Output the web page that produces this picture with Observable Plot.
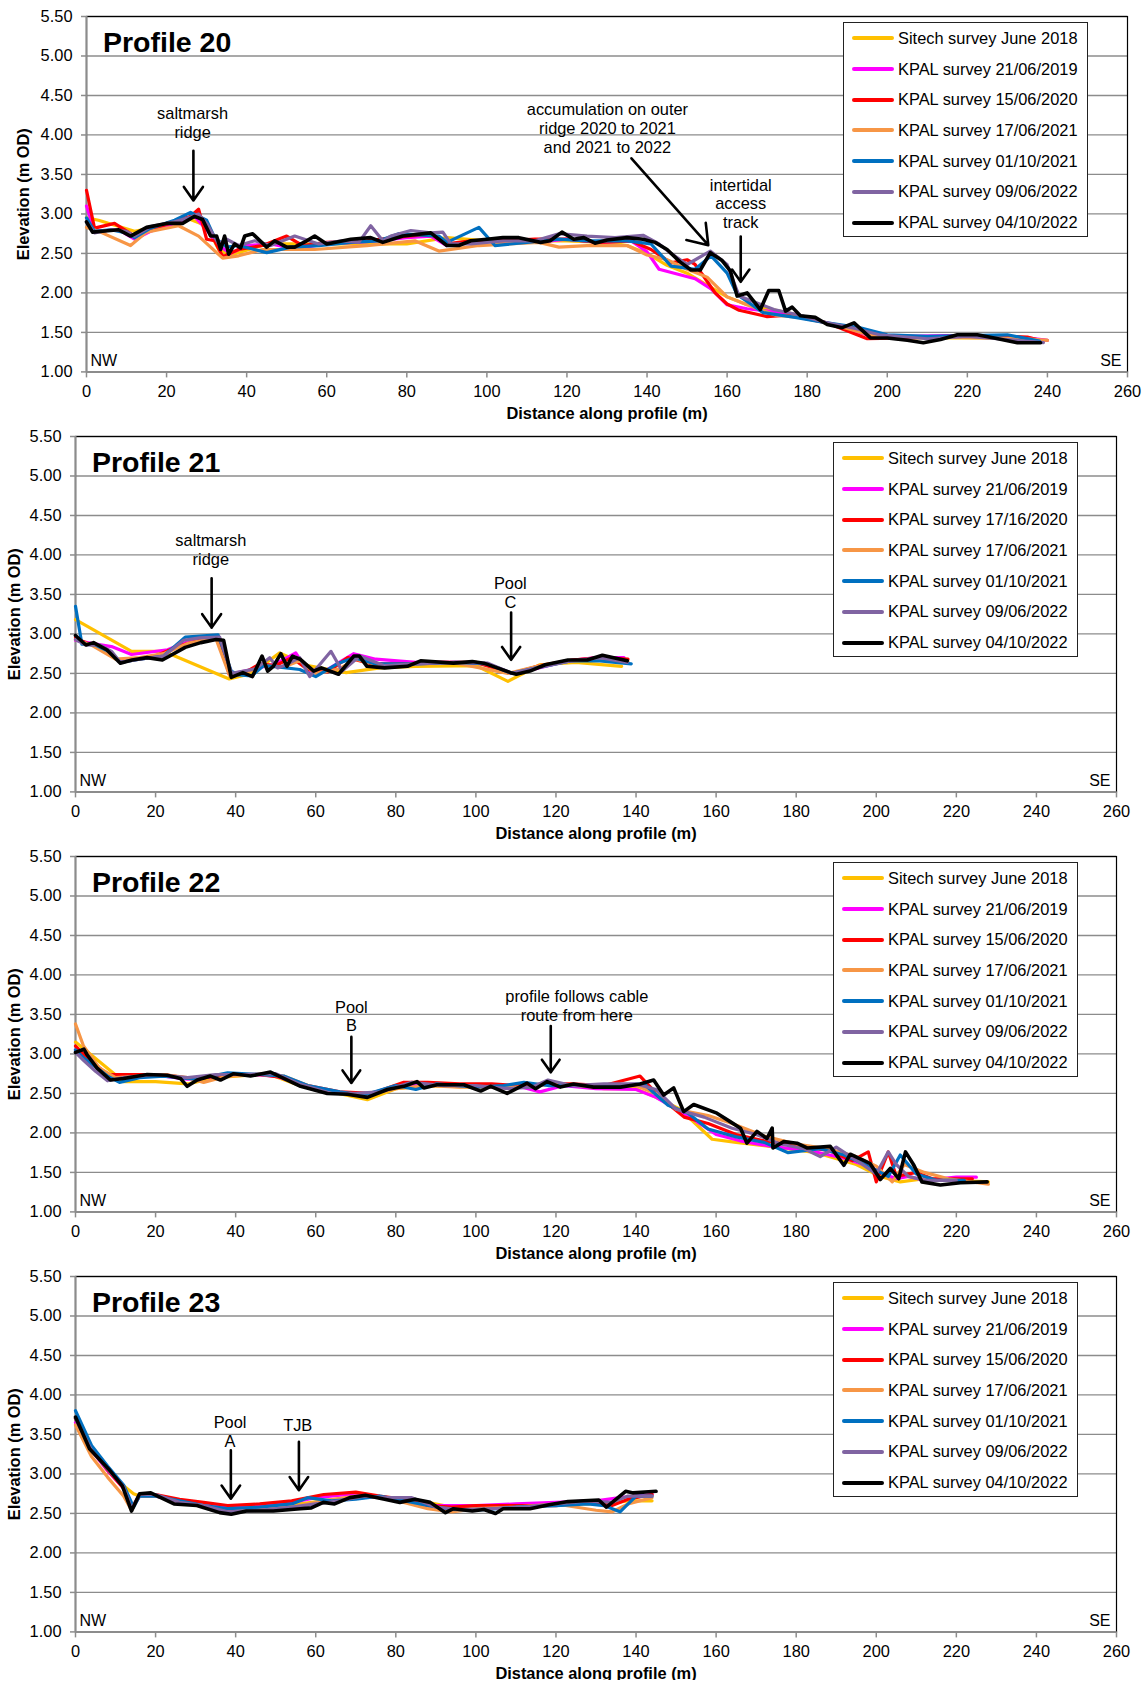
<!DOCTYPE html>
<html><head><meta charset="utf-8">
<script src="https://cdn.jsdelivr.net/npm/d3@7"></script>
<script src="https://cdn.jsdelivr.net/npm/@observablehq/plot@0.6"></script>
<style>
body{margin:0;background:#fff;font-family:"Liberation Sans",Arial,sans-serif;}
.panel{position:relative;width:1146px;height:420px;}
.panel svg{overflow:visible;background:transparent;}
.legend{position:absolute;top:22px;width:245px;height:215px;border:1.2px solid #222;background:#fff;box-sizing:border-box;}
.legend .row{position:absolute;left:0;height:20px;display:flex;align-items:center;font-size:16.4px;white-space:nowrap;color:#000;}
.legend .sw{display:inline-block;width:42px;height:4px;margin-left:8px;margin-right:4px;border-radius:2px;}
</style></head><body><div id="chart"></div>
<script>
const xTicks = [0,20,40,60,80,100,120,140,160,180,200,220,240,260];
const yTicks = [1,1.5,2,2.5,3,3.5,4,4.5,5,5.5];
const seriesColors = ["#FFC000","#FF00FF","#FF0000","#F79646","#0070C0","#8064A2","#000000"];
const legendA = ["Sitech survey June 2018","KPAL survey 21/06/2019","KPAL survey 15/06/2020","KPAL survey 17/06/2021","KPAL survey 01/10/2021","KPAL survey 09/06/2022","KPAL survey 04/10/2022"];
const legendB = ["Sitech survey June 2018","KPAL survey 21/06/2019","KPAL survey 17/16/2020","KPAL survey 17/06/2021","KPAL survey 01/10/2021","KPAL survey 09/06/2022","KPAL survey 04/10/2022"];
const titles = ["Profile 20","Profile 21","Profile 22","Profile 23"];

// ---- Profile 20 ----
const p20_sitech = [[0,2.95],[3,2.92],[12,2.78],[16,2.82],[25,2.95],[30,2.85],[33,2.55],[36,2.48],[45,2.62],[55,2.62],[65,2.62],[80,2.62],[90,2.7],[100,2.66],[110,2.66],[120,2.66],[130,2.64],[135,2.6],[140,2.5],[145,2.35],[150,2.25],[155,2.1],[160,1.95],[165,1.85],[175,1.75],[185,1.62],[195,1.47],[205,1.43],[215,1.43],[225,1.43],[235,1.42],[240,1.40]];
const p20_2019 = [[0,3.1],[2,2.78],[8,2.8],[12,2.68],[16,2.78],[22,2.88],[27,2.97],[30,2.8],[33,2.6],[36,2.5],[40,2.6],[46,2.62],[52,2.56],[60,2.62],[70,2.65],[80,2.7],[86,2.72],[90,2.6],[96,2.64],[104,2.68],[112,2.64],[120,2.68],[128,2.64],[136,2.66],[140,2.52],[143,2.3],[152,2.18],[156,2.05],[160,1.85],[165,1.8],[175,1.74],[185,1.62],[195,1.47],[205,1.45],[215,1.46],[225,1.46],[235,1.43],[240,1.40]];
const p20_2020 = [[0,3.3],[2,2.82],[7,2.88],[12,2.72],[16,2.8],[22,2.9],[26,2.97],[28,3.06],[30,2.68],[32,2.66],[34,2.46],[38,2.55],[44,2.6],[50,2.72],[54,2.6],[60,2.64],[70,2.66],[80,2.72],[86,2.74],[90,2.62],[96,2.66],[104,2.66],[112,2.68],[120,2.68],[128,2.64],[136,2.66],[141,2.55],[146,2.38],[150,2.42],[152,2.36],[154,2.22],[157,2.0],[160,1.86],[163,1.78],[170,1.70],[175,1.72],[185,1.62],[195,1.42],[205,1.43],[215,1.45],[225,1.46],[235,1.44],[238,1.40]];
const p20_2021a = [[0,2.83],[3.5,2.77],[11,2.6],[15,2.77],[23,2.85],[28,2.72],[34,2.44],[38,2.47],[44,2.55],[57,2.55],[70,2.6],[82,2.66],[88,2.53],[98,2.6],[113,2.64],[118,2.58],[125,2.6],[135,2.6],[140,2.48],[145,2.42],[150,2.3],[155,2.2],[160,1.95],[165,1.85],[172,1.72],[180,1.68],[190,1.55],[197,1.45],[205,1.45],[215,1.44],[225,1.43],[235,1.42],[240,1.40]];
const p20_2021b = [[0,2.95],[2,2.78],[6,2.8],[10,2.76],[12,2.7],[16,2.82],[22,2.92],[26,3.02],[30,2.92],[32,2.7],[35,2.58],[38,2.6],[45,2.51],[51,2.58],[58,2.6],[66,2.64],[73,2.66],[78,2.75],[88,2.72],[90,2.64],[98,2.83],[102,2.6],[110,2.64],[118,2.68],[125,2.66],[135,2.66],[141,2.62],[146,2.34],[152,2.3],[156,2.47],[160,2.25],[162.5,1.98],[169,1.75],[177,1.69],[185,1.62],[193,1.56],[200,1.47],[210,1.45],[220,1.46],[230,1.47],[238,1.39]];
const p20_2022a = [[0,2.9],[2,2.76],[6,2.8],[10,2.78],[12,2.72],[16,2.84],[22,2.9],[26,2.96],[28,3.0],[30,2.88],[33,2.62],[35,2.68],[38,2.6],[42,2.66],[46,2.6],[52,2.72],[58,2.62],[64,2.66],[68,2.64],[71,2.85],[74,2.66],[76,2.72],[81,2.79],[86,2.76],[89,2.77],[91,2.62],[96,2.62],[104,2.66],[112,2.66],[118,2.75],[125,2.72],[132,2.70],[139,2.73],[143,2.62],[146,2.5],[150,2.36],[155.8,2.53],[160,2.36],[163,1.96],[171.7,1.79],[178,1.72],[185,1.62],[192,1.55],[198,1.47],[210,1.42],[220,1.45],[230,1.41],[239,1.37]];
const p20_2022b = [[0,2.9],[1.5,2.77],[4,2.78],[8,2.80],[11,2.72],[15,2.83],[20,2.88],[24,2.88],[27,2.97],[29,2.93],[31,2.72],[32.5,2.72],[33.5,2.55],[34.5,2.72],[35.5,2.49],[37,2.62],[38.5,2.57],[39.5,2.72],[41.5,2.75],[45,2.58],[47,2.66],[50,2.58],[52,2.58],[55,2.66],[57,2.72],[60,2.62],[66,2.68],[71,2.70],[74,2.64],[79,2.72],[86,2.76],[90,2.60],[93,2.60],[96,2.66],[100,2.68],[104,2.70],[108,2.70],[113.4,2.64],[115.8,2.66],[118.75,2.77],[121.7,2.68],[124.2,2.70],[127,2.63],[130,2.67],[135,2.70],[139,2.68],[142,2.64],[145,2.55],[148.3,2.39],[151,2.29],[153.3,2.29],[155.8,2.51],[158.75,2.41],[160.8,2.28],[162.5,1.96],[165,2.0],[168.3,1.79],[170.4,2.03],[172.9,2.03],[174.6,1.77],[176.25,1.82],[178.3,1.71],[182,1.69],[185,1.60],[188.75,1.56],[191.7,1.62],[195.8,1.43],[200,1.43],[205,1.40],[209,1.37],[213.3,1.41],[217.5,1.47],[222.5,1.47],[226.7,1.43],[232.5,1.37],[238.3,1.37]];
const p20_notes = [{x:26.5,y:4.16,text:"saltmarsh\nridge"},{x:130.1,y:4.09,text:"accumulation on outer\nridge 2020 to 2021\nand 2021 to 2022"},{x:163.4,y:3.133,text:"intertidal\naccess\ntrack"}];
const p20_arrows = [{x1:26.7,y1:3.80,x2:26.7,y2:3.17},{x1:136.1,y1:3.705,x2:155.3,y2:2.604},{x1:163.4,y1:2.713,x2:163.4,y2:2.14}];

// ---- Profile 21 ----
const p21_sitech = [[0,3.18],[14,2.78],[22,2.78],[38.4,2.43],[44,2.5],[51,2.76],[58,2.6],[67.6,2.51],[76,2.57],[85,2.59],[100,2.6],[108,2.4],[116,2.61],[125,2.64],[136.4,2.59]];
const p21_2019 = [[0,2.92],[4,2.88],[9,2.84],[14,2.74],[23,2.8],[28,2.9],[33,2.96],[35.6,2.97],[38.4,2.49],[44,2.55],[50,2.62],[55,2.76],[58,2.53],[63,2.55],[69.5,2.75],[75,2.68],[85,2.64],[95,2.64],[103,2.62],[109,2.5],[115,2.56],[123,2.66],[130,2.70],[137,2.70]];
const p21_2020 = [[0,2.95],[3,2.88],[8,2.8],[11,2.65],[15,2.68],[20,2.72],[26,2.85],[31,2.92],[35.5,2.96],[38.5,2.48],[42,2.5],[46,2.62],[50,2.6],[54,2.7],[58,2.55],[63,2.52],[68,2.7],[74,2.62],[82,2.62],[90,2.64],[100,2.64],[109,2.5],[116,2.6],[124,2.67],[131,2.7],[138,2.68]];
const p21_2021a = [[0,2.93],[4,2.86],[10,2.68],[16,2.7],[22,2.75],[28,2.88],[35,2.95],[38.5,2.47],[43,2.52],[47,2.6],[52,2.58],[56,2.66],[60,2.5],[66,2.56],[70,2.68],[76,2.6],[85,2.62],[95,2.63],[108,2.5],[116,2.6],[124,2.66],[132,2.68],[138,2.65]];
const p21_2021b = [[0,3.35],[1.6,2.87],[5,2.86],[9,2.76],[11.2,2.64],[16,2.68],[22,2.72],[27.4,2.96],[35.6,2.99],[38.9,2.53],[40.8,2.48],[44,2.47],[47,2.6],[51,2.58],[56,2.55],[60,2.46],[65.7,2.63],[69.5,2.7],[75,2.62],[85,2.62],[95,2.64],[103,2.62],[109,2.5],[116,2.58],[124,2.66],[131,2.66],[138.8,2.62]];
const p21_2022a = [[0,2.93],[2.6,2.86],[6,2.86],[9,2.78],[11.2,2.64],[16,2.68],[22,2.72],[27,2.92],[31,2.95],[36,2.96],[39,2.5],[42,2.53],[45,2.56],[48.5,2.70],[50.5,2.57],[53,2.62],[56,2.70],[58.5,2.46],[63.8,2.78],[66.6,2.53],[71,2.72],[77,2.6],[85,2.62],[95,2.64],[103,2.63],[109,2.5],[116,2.58],[124,2.66],[131,2.7],[137.8,2.64]];
const p21_2022b = [[0,2.98],[2.6,2.86],[4.5,2.89],[7.8,2.80],[11.2,2.63],[14.1,2.67],[17.9,2.70],[21.7,2.67],[27.4,2.83],[31.3,2.89],[35.1,2.93],[37,2.92],[38.9,2.45],[41.8,2.51],[44.2,2.46],[46.6,2.72],[48,2.53],[49.4,2.59],[51.3,2.75],[52.8,2.59],[54.2,2.72],[56.1,2.68],[59.5,2.53],[61.4,2.57],[65.7,2.49],[69.5,2.72],[70.9,2.72],[72.8,2.59],[77.2,2.57],[82.9,2.59],[86.2,2.66],[94.4,2.63],[99.1,2.65],[102,2.63],[108.7,2.51],[110.1,2.49],[113.5,2.53],[117.3,2.61],[123,2.67],[127.8,2.67],[131.6,2.73],[137.8,2.66]];
const p21_notes = [{x:33.8,y:4.07,text:"saltmarsh\nridge"},{x:108.6,y:3.53,text:"Pool\nC"}];
const p21_arrows = [{x1:34,y1:3.705,x2:34,y2:3.08},{x1:108.8,y1:3.27,x2:108.8,y2:2.672}];

// ---- Profile 22 ----
const p22_sitech = [[0,3.15],[12,2.65],[20,2.65],[28,2.62],[35,2.7],[48,2.75],[56,2.6],[64,2.52],[72.9,2.42],[80,2.56],[88,2.6],[100,2.58],[110,2.58],[118,2.62],[125,2.6],[132,2.56],[140,2.56],[145,2.45],[151,2.3],[159,1.92],[165,1.88],[175,1.82],[185,1.75],[195,1.6],[201,1.45],[206,1.38],[212,1.42],[220,1.4],[228,1.38]];
const p22_2019 = [[0,3.05],[2,2.95],[6,2.8],[10,2.7],[16,2.72],[22,2.72],[28,2.68],[36,2.72],[44,2.74],[50,2.72],[56,2.62],[64,2.52],[72,2.48],[80,2.58],[88,2.62],[96,2.6],[104,2.58],[110,2.6],[116,2.52],[122,2.6],[130,2.56],[140,2.55],[145,2.45],[150,2.3],[155,2.15],[160,1.98],[166,1.9],[175,1.82],[183,1.78],[192,1.68],[198,1.58],[202,1.48],[205,1.42],[208,1.45],[212,1.40],[220,1.44],[225,1.44]];
const p22_2020 = [[0,3.1],[3,2.95],[8,2.74],[14,2.74],[22,2.74],[30,2.68],[38,2.74],[46,2.74],[52,2.7],[58,2.6],[66,2.52],[74,2.5],[82,2.64],[88,2.64],[96,2.62],[104,2.62],[110,2.6],[118,2.62],[124,2.62],[132,2.6],[141,2.72],[146,2.45],[152,2.2],[158,2.12],[165,1.98],[172,1.9],[180,1.84],[188,1.78],[194,1.65],[198,1.76],[200,1.38],[203,1.76],[205,1.45],[210,1.5],[214,1.42],[220,1.42],[224,1.42]];
const p22_2021a = [[0,3.38],[2,3.1],[6,2.82],[10,2.7],[16,2.72],[22,2.74],[28,2.7],[32,2.64],[38,2.72],[46,2.74],[52,2.72],[58,2.6],[66,2.5],[72,2.47],[80,2.56],[88,2.6],[96,2.58],[104,2.58],[112,2.58],[120,2.62],[130,2.58],[140,2.6],[145,2.5],[150,2.3],[158,2.22],[164,2.12],[172,1.96],[180,1.86],[188,1.8],[195,1.7],[200,1.58],[204,1.38],[207,1.6],[212,1.5],[218,1.42],[228,1.35]];
const p22_2021b = [[0,3.05],[2,2.95],[8,2.72],[11,2.64],[16,2.7],[22,2.72],[30,2.68],[38,2.76],[46,2.74],[52,2.72],[58,2.6],[66,2.52],[72,2.48],[80,2.6],[85,2.55],[90,2.62],[100,2.58],[107,2.6],[112,2.64],[118,2.6],[126,2.6],[134,2.6],[142,2.62],[148,2.35],[153,2.25],[158,2.05],[165,1.95],[172,1.88],[178,1.75],[186,1.8],[192,1.72],[198,1.58],[203,1.45],[206,1.72],[210,1.48],[215,1.40],[222,1.40]];
const p22_2022a = [[0,3.02],[2,2.92],[5,2.78],[8,2.66],[12,2.7],[20,2.74],[28,2.7],[35,2.74],[42,2.74],[50,2.75],[56,2.62],[64,2.5],[70,2.5],[76,2.52],[84,2.64],[92,2.6],[100,2.6],[108,2.56],[114,2.58],[118,2.67],[124,2.6],[132,2.62],[140,2.62],[145,2.55],[150,2.3],[157,2.2],[164,2.06],[170,1.98],[176,1.86],[182,1.8],[186,1.7],[190,1.82],[196,1.62],[200,1.48],[203,1.76],[205,1.6],[208,1.45],[212,1.40],[220,1.40]];
const p22_2022b = [[0,3.02],[2.1,3.06],[2.9,2.99],[5.4,2.82],[8.7,2.67],[12,2.69],[17.9,2.74],[22.9,2.73],[26.2,2.69],[27.9,2.59],[30.4,2.67],[33.7,2.72],[36.2,2.67],[39.5,2.75],[43.7,2.72],[48.7,2.77],[52,2.69],[56.2,2.59],[62.9,2.50],[67.9,2.49],[72.9,2.45],[77.9,2.55],[82,2.59],[85.3,2.65],[87,2.57],[90.3,2.61],[97,2.61],[101.2,2.53],[103.7,2.59],[107.8,2.50],[112.8,2.63],[114.9,2.56],[117.8,2.65],[121.1,2.58],[124.4,2.62],[129.4,2.58],[136.1,2.58],[141,2.62],[144.4,2.67],[146.9,2.48],[149.4,2.57],[151.9,2.27],[154.4,2.36],[160.2,2.25],[163.6,2.14],[166.1,2.06],[167.7,1.87],[170.2,2.02],[172.7,1.93],[174,2.06],[174.2,1.81],[176.9,1.89],[180.2,1.87],[182.7,1.81],[188.5,1.83],[191.9,1.59],[193.5,1.73],[198.5,1.61],[201,1.41],[203.5,1.55],[205.6,1.42],[207.3,1.76],[209.4,1.59],[211.4,1.38],[216,1.34],[221,1.37],[227.7,1.38]];
const p22_notes = [{x:68.9,y:3.48,text:"Pool\nB"},{x:125.2,y:3.617,text:"profile follows cable\nroute from here"}];
const p22_arrows = [{x1:68.9,y1:3.216,x2:68.9,y2:2.632},{x1:118.7,y1:3.353,x2:118.7,y2:2.767}];

// ---- Profile 23 ----
const p23_sitech = [[0,3.7],[4,3.3],[8,3.05],[12,2.85],[14.5,2.75],[16,2.72],[20,2.72],[26,2.65],[32,2.6],[38,2.55],[44,2.55],[50,2.56],[56,2.62],[62,2.66],[68,2.7],[74,2.72],[80,2.68],[86,2.66],[92,2.6],[100,2.58],[108,2.6],[116,2.62],[124,2.62],[132,2.62],[138,2.66],[144,2.66]];
const p23_2019 = [[0,3.65],[4,3.3],[8,3.04],[12,2.82],[14,2.55],[16,2.72],[20,2.72],[26,2.66],[32,2.62],[38,2.58],[46,2.6],[54,2.64],[60,2.7],[68,2.74],[74,2.72],[82,2.66],[88,2.6],[94,2.6],[100,2.6],[110,2.62],[120,2.64],[130,2.66],[136,2.7],[144,2.74]];
const p23_2020 = [[0,3.7],[4,3.32],[8,3.05],[12,2.82],[14,2.56],[16,2.74],[20,2.74],[26,2.68],[32,2.64],[38,2.6],[46,2.62],[54,2.66],[62,2.74],[70,2.77],[76,2.72],[82,2.68],[88,2.6],[94,2.58],[100,2.6],[110,2.6],[120,2.6],[128,2.64],[134,2.6],[138,2.68],[144,2.74]];
const p23_2021a = [[0,3.62],[4,3.22],[8,2.96],[12,2.72],[14,2.54],[16,2.72],[20,2.72],[26,2.64],[32,2.6],[38,2.55],[46,2.55],[54,2.58],[62,2.66],[70,2.72],[76,2.7],[82,2.64],[88,2.56],[94,2.52],[100,2.56],[110,2.58],[120,2.62],[130,2.54],[134,2.52],[138,2.62],[144,2.7]];
const p23_2021b = [[0,3.8],[4,3.36],[8,3.1],[12,2.86],[14.5,2.58],[16,2.72],[20,2.72],[26,2.66],[32,2.6],[38,2.56],[46,2.58],[54,2.62],[58,2.7],[64,2.66],[70,2.68],[76,2.72],[82,2.66],[88,2.6],[94,2.55],[100,2.54],[110,2.58],[120,2.6],[128,2.62],[132,2.6],[136,2.52],[140,2.72],[144,2.72]];
const p23_2022a = [[0,3.7],[4,3.3],[8,3.06],[12,2.84],[14,2.56],[16,2.74],[20,2.74],[26,2.64],[32,2.6],[38,2.52],[46,2.54],[54,2.58],[60,2.62],[66,2.66],[72,2.72],[78,2.7],[84,2.7],[90,2.58],[96,2.55],[104,2.56],[112,2.58],[120,2.62],[128,2.66],[134,2.64],[138,2.72],[144,2.72]];
const p23_2022b = [[0,3.72],[3.5,3.32],[8.3,3.06],[11.7,2.85],[14,2.53],[16,2.75],[18.8,2.76],[24.6,2.62],[30.3,2.60],[36,2.51],[38.9,2.49],[42.7,2.53],[49.4,2.53],[56.1,2.56],[58.9,2.57],[61.9,2.64],[64.7,2.62],[68.5,2.70],[72.4,2.73],[77.2,2.68],[81,2.64],[84.8,2.68],[88.6,2.64],[92.4,2.51],[94.4,2.56],[99.1,2.53],[102,2.55],[104.9,2.50],[106.8,2.56],[113.5,2.56],[118.3,2.61],[123,2.65],[126.9,2.66],[130.7,2.67],[132.6,2.58],[137.4,2.78],[139.3,2.76],[145,2.78]];
const p23_notes = [{x:38.6,y:3.535,text:"Pool\nA"},{x:55.5,y:3.624,text:"TJB"}];
const p23_arrows = [{x1:38.8,y1:3.298,x2:38.8,y2:2.686},{x1:55.8,y1:3.406,x2:55.8,y2:2.794}];

const panels = [
  {title: titles[0], series: [p20_sitech,p20_2019,p20_2020,p20_2021a,p20_2021b,p20_2022a,p20_2022b], notes: p20_notes, arrows: p20_arrows, legend: legendA, ml: 86, mr: 19, ylx: -62.4, legLeft: 843},
  {title: titles[1], series: [p21_sitech,p21_2019,p21_2020,p21_2021a,p21_2021b,p21_2022a,p21_2022b], notes: p21_notes, arrows: p21_arrows, legend: legendB, ml: 75, mr: 30, ylx: -61, legLeft: 833},
  {title: titles[2], series: [p22_sitech,p22_2019,p22_2020,p22_2021a,p22_2021b,p22_2022a,p22_2022b], notes: p22_notes, arrows: p22_arrows, legend: legendA, ml: 75, mr: 30, ylx: -61, legLeft: 833},
  {title: titles[3], series: [p23_sitech,p23_2019,p23_2020,p23_2021a,p23_2021b,p23_2022a,p23_2022b], notes: p23_notes, arrows: p23_arrows, legend: legendA, ml: 75, mr: 30, ylx: -61, legLeft: 833}
];

const FONT = '"Liberation Sans", Arial, sans-serif';
const grey = "#8c8c8c";
const root = document.getElementById("chart");

for (const p of panels) {
  const lineMarks = p.series.map((s, i) => Plot.line(s, {
    x: d => d[0], y: d => d[1],
    stroke: seriesColors[i], strokeWidth: i === 6 ? 3.6 : 3.2,
    strokeLinejoin: "round", strokeLinecap: "round"
  }));
  const chart = Plot.plot({
    width: 1146, height: 420,
    marginTop: 16, marginBottom: 48.6, marginLeft: p.ml, marginRight: p.mr,
    style: {fontFamily: FONT, fontSize: "16.4px", color: "#000", background: "transparent", overflow: "visible"},
    x: {domain: [0, 260], label: null},
    y: {domain: [1, 5.5], label: null},
    marks: [
      Plot.gridY({ticks: yTicks, stroke: grey, strokeOpacity: 1, strokeWidth: 1.3}),
      Plot.frame({stroke: "#000", strokeWidth: 1.2}),
      Plot.ruleX([0], {stroke: grey, strokeWidth: 2}),
      Plot.ruleY([1], {stroke: grey, strokeWidth: 2}),
      Plot.axisY({ticks: yTicks, tickFormat: d3.format(".2f"), tickSize: 5, tickPadding: 9, stroke: grey, strokeWidth: 1.5, label: null, fontSize: 16.4}),
      Plot.axisX({ticks: xTicks, tickFormat: d3.format("d"), tickSize: 6, tickPadding: 7, stroke: grey, strokeWidth: 1.5, label: null, fontSize: 16.4}),
      ...lineMarks,
      Plot.text(p.notes, {x: "x", y: "y", text: "text", fontSize: 16.4, lineHeight: 1.15, lineAnchor: "middle", textAnchor: "middle", fill: "#000"}),
      Plot.arrow(p.arrows, {x1: "x1", y1: "y1", x2: "x2", y2: "y2", stroke: "#000", strokeWidth: 2.6, headLength: 13, headAngle: 70}),
      Plot.text([p.title], {text: d => d, frameAnchor: "top-left", dx: 16.5, dy: 26.5, lineAnchor: "middle", textAnchor: "start", fontWeight: "bold", fontSize: 28.5, fill: "#000"}),
      Plot.text(["NW"], {text: d => d, frameAnchor: "bottom-left", dx: 4, dy: -11, lineAnchor: "middle", textAnchor: "start", fontSize: 16, fill: "#000"}),
      Plot.text(["SE"], {text: d => d, frameAnchor: "bottom-right", dx: -6, dy: -11, lineAnchor: "middle", textAnchor: "end", fontSize: 16, fill: "#000"}),
      Plot.text(["Distance along profile (m)"], {text: d => d, frameAnchor: "bottom", dy: 42, lineAnchor: "middle", textAnchor: "middle", fontWeight: "bold", fontSize: 16.4, fill: "#000"}),
      Plot.text(["Elevation (m OD)"], {text: d => d, frameAnchor: "left", dx: p.ylx, rotate: -90, lineAnchor: "middle", textAnchor: "middle", fontWeight: "bold", fontSize: 16.4, fill: "#000"})
    ]
  });
  const div = document.createElement("div");
  div.className = "panel";
  div.appendChild(chart);
  const leg = document.createElement("div");
  leg.className = "legend";
  leg.style.left = p.legLeft + "px";
  p.legend.forEach((lab, i) => {
    const row = document.createElement("div");
    row.className = "row";
    row.style.top = (16.3 + i * 30.7 - 10 - 1) + "px";
    const sw = document.createElement("span");
    sw.className = "sw";
    sw.style.background = seriesColors[i];
    const t = document.createElement("span");
    t.textContent = lab;
    row.appendChild(sw); row.appendChild(t);
    leg.appendChild(row);
  });
  div.appendChild(leg);
  root.appendChild(div);
}
</script></body></html>
